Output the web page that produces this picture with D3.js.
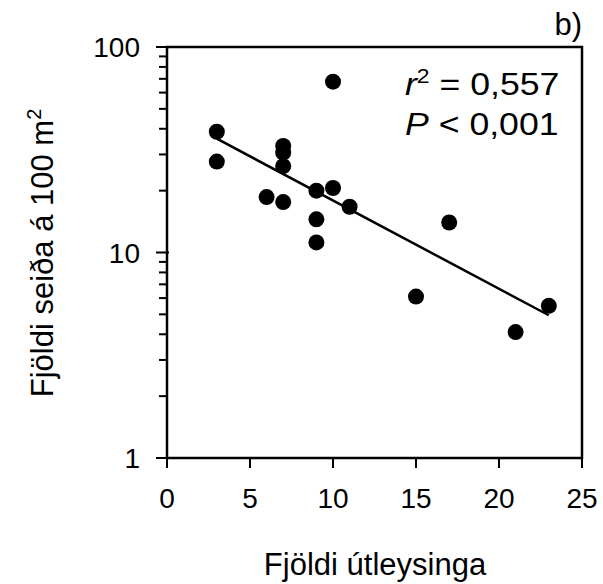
<!DOCTYPE html>
<html>
<head>
<meta charset="utf-8">
<script src="https://cdn.jsdelivr.net/npm/d3@7"></script>
<style>
  body { margin: 0; background: #fff; }
  text { font-family: "Liberation Sans", Arial, sans-serif; fill: #000; }
</style>
</head>
<body>
<svg></svg>
<script>
var width = 603,
    height = 584;

// data
var utleysingar = [3, 3, 6, 7, 7, 7, 7, 9, 9, 9, 10, 10, 11, 15, 17, 21, 23];
var seidi = [38.7, 27.7, 18.6, 33.0, 30.6, 26.3, 17.6, 20.0, 14.5, 11.2, 67.8, 20.6, 16.7, 6.1, 14.0, 4.1, 5.5];
var fitX = [3, 23];
var fitY = [35.8, 4.95];
var xTicks = [0, 5, 10, 15, 20, 25];
var yMajor = [1, 10, 100];

var margin = {left: 167, right: 21, top: 47, bottom: 126};

var svg = d3.select('svg')
            .attr('width', width)
            .attr('height', height);

var x = d3.scaleLinear()
          .domain([0, 25])
          .range([margin.left, width - margin.right]);

var y = d3.scaleLog()
          .domain([1, 100])
          .range([height - margin.bottom, margin.top]);

// minor ticks 2..9, 20..90
var yMinor = [];
[1, 10].forEach(function(d){
  for (var k = 2; k < 10; k++) yMinor.push(d * k);
});

// frame
svg.append('rect')
    .attr('x', x(0))
    .attr('y', y(100))
    .attr('width', x(25) - x(0))
    .attr('height', y(1) - y(100))
    .attr('fill', 'none')
    .attr('stroke', '#000')
    .attr('stroke-width', 2.5);

// y ticks
svg.append('g')
  .selectAll('line')
  .data(yMajor)
  .enter()
  .append('line')
    .attr('x1', x(0) - 11)
    .attr('x2', x(0) + 2)
    .attr('y1', d => y(d))
    .attr('y2', d => y(d))
    .attr('stroke', '#000')
    .attr('stroke-width', 2);

svg.append('g')
  .selectAll('line')
  .data(yMinor)
  .enter()
  .append('line')
    .attr('x1', x(0) - 8)
    .attr('x2', x(0))
    .attr('y1', d => y(d))
    .attr('y2', d => y(d))
    .attr('stroke', '#000')
    .attr('stroke-width', 2);

svg.append('g')
  .selectAll('text')
  .data(yMajor)
  .enter()
  .append('text')
    .attr('x', x(0) - 27)
    .attr('y', d => y(d))
    .attr('dy', '0.36em')
    .style('font-size', '28px')
    .style('text-anchor', 'end')
    .text(d => d);

// x ticks
svg.append('g')
  .selectAll('line')
  .data(xTicks)
  .enter()
  .append('line')
    .attr('x1', d => x(d))
    .attr('x2', d => x(d))
    .attr('y1', y(1))
    .attr('y2', y(1) + 10)
    .attr('stroke', '#000')
    .attr('stroke-width', 2);

svg.append('g')
  .selectAll('text')
  .data(xTicks)
  .enter()
  .append('text')
    .attr('x', d => x(d))
    .attr('y', 508)
    .style('font-size', '28px')
    .style('text-anchor', 'middle')
    .text(d => d);

// regression line
var line = d3.line()
             .x(d => x(d[0]))
             .y(d => y(d[1]));

svg.append('path')
    .datum(d3.zip(fitX, fitY))
    .attr('d', line)
    .attr('fill', 'none')
    .attr('stroke', '#000')
    .attr('stroke-width', 2.5);

// points
svg.append('g')
  .selectAll('circle')
  .data(d3.zip(utleysingar, seidi))
  .enter()
  .append('circle')
    .attr('cx', d => x(d[0]))
    .attr('cy', d => y(d[1]))
    .attr('r', 8)
    .attr('fill', '#000');

// labels
svg.append('text')
    .attr('x', 375)
    .attr('y', 575)
    .style('font-size', '31px')
    .style('text-anchor', 'middle')
    .text('Fjöldi útleysinga');

var yTitle = svg.append('text')
    .attr('transform', 'translate(53,253) rotate(-90)')
    .style('font-size', '31px')
    .style('text-anchor', 'middle');
yTitle.append('tspan').text('Fjöldi seiða á 100 m');
yTitle.append('tspan').attr('dy', -12).style('font-size', '20px').text('2');

// stats text is a bit wider in the original
var r2 = svg.append('text')
    .attr('transform', 'translate(405,95) scale(1.15,1)')
    .style('font-size', '31px');
r2.append('tspan').style('font-style', 'italic').text('r');
r2.append('tspan').attr('dy', -12).style('font-size', '20px').text('2');
r2.append('tspan').attr('dy', 12).text(' = 0,557');

var pval = svg.append('text')
    .attr('transform', 'translate(405,135) scale(1.15,1)')
    .style('font-size', '31px');
pval.append('tspan').style('font-style', 'italic').text('P');
pval.append('tspan').text(' < 0,001');

svg.append('text')
    .attr('x', 582)
    .attr('y', 35)
    .style('font-size', '31px')
    .style('text-anchor', 'end')
    .text('b)');
</script>
</body>
</html>
